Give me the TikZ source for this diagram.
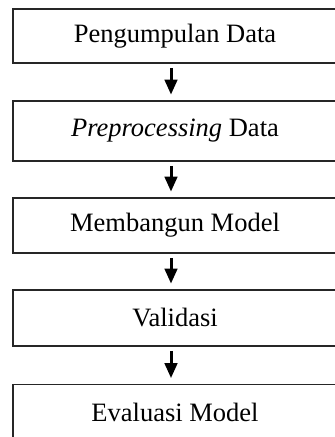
\documentclass[tikz,border=0pt]{standalone}
\usepackage{fontspec}
\setmainfont{Liberation Serif}
\usetikzlibrary{arrows.meta}
\begin{document}
\begin{tikzpicture}[x=1pt,y=-1pt,
  stage/.style={draw=black!85,line width=1.8pt,minimum width=324pt,inner sep=0pt,
    font=\fontsize{26.5}{30}\selectfont,anchor=center},
  flow/.style={line width=3pt,-{Triangle[width=12.5pt,length=15pt]},
    shorten <=4pt,shorten >=5.5pt}]
\useasboundingbox (0,0) rectangle (335,437);
\node[stage,minimum height=54pt] (b1) at (175,36) {Pengumpulan Data};
\node[stage,minimum height=60pt] (b2) at (175,131) {\textit{Preprocessing} Data};
\node[stage,minimum height=55pt] (b3) at (175,225.5) {Membangun Model};
\node[stage,minimum height=56pt] (b4) at (175,318) {Validasi};
\node[stage,minimum height=55pt] (b5) at (175,412) {Evaluasi Model};
\foreach \a/\b in {b1/b2,b2/b3,b3/b4,b4/b5}
  \draw[flow] ([xshift=-4pt]\a.south) -- ([xshift=-4pt]\b.north);
\end{tikzpicture}
\end{document}
